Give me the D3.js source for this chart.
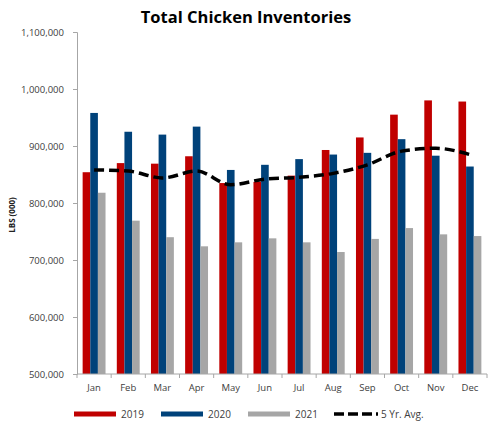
<!DOCTYPE html>
<html lang="en">
<head>
<meta charset="UTF-8">
<title>Total Chicken Inventories</title>
<script src="https://d3js.org/d3.v7.min.js"></script>
<style>
    body { margin: 0; background: #fff; }
    text { font-family: "Open Sans", "Noto Sans", sans-serif; }
    .axis path, .axis line { stroke: #a6a6a6; }
    .axis text { fill: #404040; font-size: 9.5px; }
</style>
</head>
<body>
<svg id="chart" width="488" height="421"></svg>
<script>
const months = ["Jan", "Feb", "Mar", "Apr", "May", "Jun", "Jul", "Aug", "Sep", "Oct", "Nov", "Dec"];
const years = ["2019", "2020", "2021"];
const v2019 = [854000, 870000, 869000, 882000, 835000, 837000, 848000, 893000, 915000, 955000, 980000, 978000];
const v2020 = [958000, 925000, 920000, 934000, 858000, 867000, 877000, 885000, 888000, 912000, 883000, 864000];
const v2021 = [818000, 769000, 740000, 724000, 731000, 738000, 731000, 714000, 737000, 756000, 745000, 742000];
const avg5 = [858000, 856000, 844000, 856000, 832000, 842000, 845000, 852000, 867000, 891000, 896000, 885000];
const yTicks = [500000, 600000, 700000, 800000, 900000, 1000000, 1100000];

const colors = {"2019": "#c00000", "2020": "#00427a", "2021": "#a6a6a6"};
const series = {"2019": v2019, "2020": v2020, "2021": v2021};

const svg = d3.select("#chart");
const margin = {top: 32, left: 77, right: 1, bottom: 47};
const width = 488 - margin.left - margin.right,
      height = 421 - margin.top - margin.bottom;

const g = svg.append("g").attr("transform", `translate(${margin.left},${margin.top})`);

const x = d3.scaleBand().domain(months).range([0, width]).paddingInner(0.33).paddingOuter(0.165);
const xCat = d3.scaleBand().domain(months).range([0, width]);
const xs = d3.scaleBand().domain(years).range([0, x.bandwidth()]);
const y = d3.scaleLinear().domain([500000, 1100000]).range([height, 0]);

// y axis
g.append("g").attr("class", "axis")
    .call(d3.axisLeft(y).tickValues(yTicks).tickSize(4).tickPadding(9).tickFormat(d3.format(",")));

// bars
years.forEach(yr => {
    g.append("g").selectAll("rect")
        .data(series[yr])
        .join("rect")
        .attr("x", (d, i) => x(months[i]) + xs(yr))
        .attr("width", xs.bandwidth())
        .attr("y", d => y(d))
        .attr("height", d => height - y(d))
        .attr("fill", colors[yr]);
});

// x axis with ticks at category boundaries
const xAxis = g.append("g").attr("class", "axis").attr("transform", `translate(0,${height})`);
xAxis.append("line").attr("x1", 0).attr("x2", width).attr("y1", 0).attr("y2", 0);
xAxis.selectAll(".tk").data(months.concat(["end"]))
    .join("line")
    .attr("x1", (d, i) => i * xCat.bandwidth())
    .attr("x2", (d, i) => i * xCat.bandwidth())
    .attr("y1", 0).attr("y2", 4);
xAxis.selectAll(".lbl").data(months)
    .join("text")
    .attr("x", d => xCat(d) + xCat.bandwidth() / 2)
    .attr("y", 17)
    .attr("text-anchor", "middle")
    .text(d => d);

// 5 yr avg line
const line = d3.line()
    .x((d, i) => xCat(months[i]) + xCat.bandwidth() / 2)
    .y(d => y(d))
    .curve(d3.curveMonotoneX);
g.append("path")
    .datum(avg5)
    .attr("d", line)
    .attr("fill", "none")
    .attr("stroke", "#000")
    .attr("stroke-width", 3.5)
    .attr("stroke-dasharray", "10,5");

// title
svg.append("text")
    .attr("x", 246).attr("y", 23)
    .attr("text-anchor", "middle")
    .style("font-size", "16.5px").style("font-weight", "bold")
    .text("Total Chicken Inventories");

// y title
svg.append("text")
    .attr("transform", "translate(15,215) rotate(-90)")
    .attr("text-anchor", "middle")
    .style("font-size", "8px").style("font-weight", "bold").attr("fill", "#222")
    .text("LBS (000)");

// legend
const legendItems = [
    {label: "2019", x: 74, type: "bar", color: colors["2019"]},
    {label: "2020", x: 161, type: "bar", color: colors["2020"]},
    {label: "2021", x: 248, type: "bar", color: colors["2021"]},
    {label: "5 Yr. Avg.", x: 334, type: "line", color: "#000"}
];
const legend = svg.append("g").attr("transform", "translate(0,414)");
legendItems.forEach(it => {
    if (it.type === "bar") {
        legend.append("rect").attr("x", it.x).attr("y", -2.5).attr("width", 42).attr("height", 5).attr("fill", it.color);
    } else {
        legend.append("line").attr("x1", it.x).attr("x2", it.x + 44).attr("y1", 0).attr("y2", 0)
            .attr("stroke", it.color).attr("stroke-width", 3.5).attr("stroke-dasharray", "10,4");
    }
    legend.append("text").attr("x", it.x + 47).attr("y", 3.5)
        .style("font-size", "10px").attr("fill", "#404040").text(it.label);
});
</script>
</body>
</html>
